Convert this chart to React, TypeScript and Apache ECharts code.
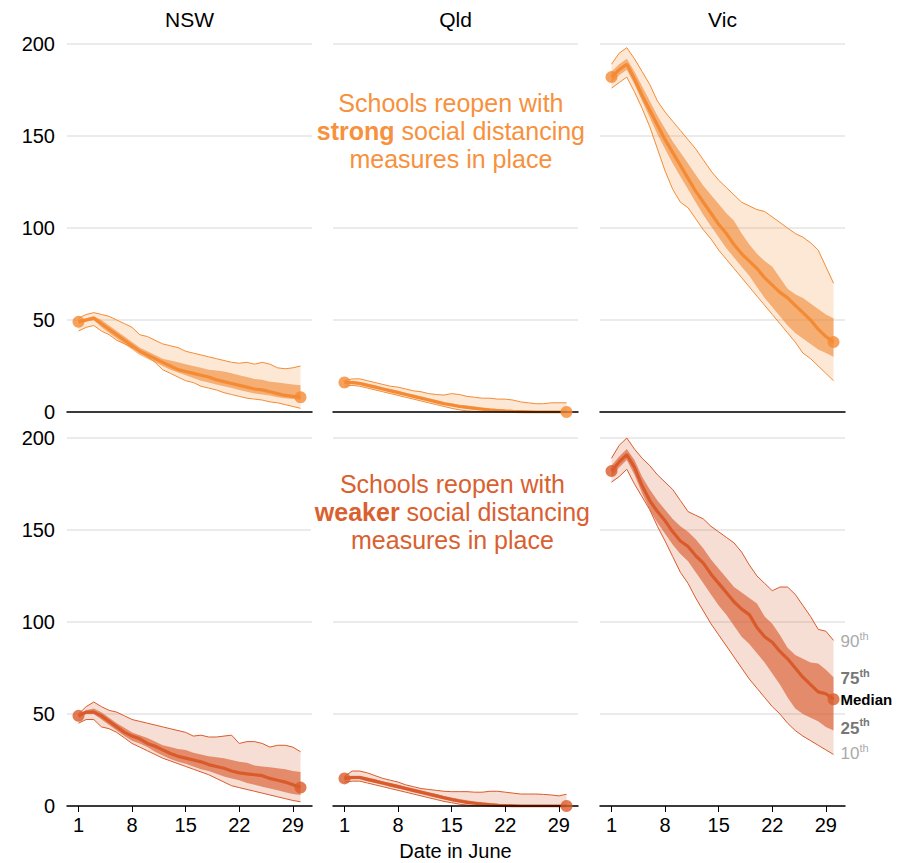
import React, { useEffect, useRef } from "react";
import * as echarts from "echarts";

// ---------- DATA ----------
const days = [1, 2, 3, 4, 5, 6, 7, 8, 9, 10, 11, 12, 13, 14, 15, 16, 17, 18, 19, 20, 21, 22, 23, 24, 25, 26, 27, 28, 29, 30];
const states = ["NSW", "Qld", "Vic"];
const dayTicks = [1, 8, 15, 22, 29];

// Strong social distancing (top row)
const nswStrongP10 = [44, 46, 47, 44, 42, 39, 37, 35, 33, 30, 27, 23, 21, 19, 17, 16, 14, 13, 12, 10.5, 9.5, 8.5, 7.5, 7, 6.5, 5.5, 5, 4, 3, 2];
const nswStrongP25 = [48, 49, 50, 46, 43, 40, 37, 34, 31, 29, 27, 25, 23, 21.5, 20, 18.5, 17, 16, 15, 14, 13, 12, 11, 10, 9.5, 9, 8, 7.5, 7, 6.5];
const nswStrongP50 = [49, 50, 51, 48, 45, 42, 39, 36, 33, 31, 29, 27, 25, 23, 22, 21, 20, 19, 17.5, 16.5, 15.5, 14.5, 13.5, 12.5, 12, 11, 10, 9, 8.5, 8];
const nswStrongP75 = [50, 51, 52, 50, 47, 44, 41, 38, 35, 33, 31, 29, 28, 27, 26, 25, 24, 23, 22.5, 22, 21, 20, 19, 18, 17.5, 16.5, 16, 15.5, 15, 14.5];
const nswStrongP90 = [51, 53, 54, 53, 52, 50, 48, 46, 42, 41, 39, 37, 36, 35, 33, 32, 31, 30, 29, 28, 27, 26.5, 27, 26, 27, 26, 24, 23.5, 24, 25];

const qldStrongP10 = [14, 14.5, 14, 13, 12, 11, 10, 9, 8, 7, 6, 5, 4, 3, 2, 1.2, 0.6, 0.3, 0.1, 0, 0, 0, 0, 0, 0, 0, 0, 0, 0, 0];
const qldStrongP25 = [15.5, 15.5, 15, 14, 13, 12, 11, 10, 9, 8, 7, 6, 5, 4, 3.2, 2.4, 1.8, 1.3, 0.9, 0.6, 0.4, 0.2, 0.1, 0, 0, 0, 0, 0, 0, 0];
const qldStrongP50 = [16, 16, 15.5, 14.5, 13.5, 12.5, 11.5, 10.5, 9.5, 8.5, 7.5, 6.5, 5.5, 4.5, 3.8, 3, 2.5, 2, 1.5, 1, 0.8, 0.5, 0.3, 0.2, 0.1, 0, 0, 0, 0, 0];
const qldStrongP75 = [16.5, 17, 16.5, 15.5, 14.5, 13.5, 12.5, 11.5, 10.5, 9.5, 8.5, 7.5, 6.5, 5.5, 4.8, 4, 3.5, 3, 2.5, 2, 1.6, 1.3, 1, 0.8, 0.6, 0.5, 0.4, 0.3, 0.3, 0.3];
const qldStrongP90 = [17, 18, 18, 17, 16, 15, 14, 13.5, 12.5, 11.5, 11, 10, 9.5, 9.2, 10, 9.5, 8.5, 8, 7.5, 7.5, 7, 7, 6.5, 5.5, 5, 4.5, 4.5, 5, 5, 5];

const vicStrongP10 = [176, 179, 182, 174, 165, 155, 143, 131, 121, 114, 111, 105, 99, 94, 88, 83, 78, 73, 68, 63, 58, 53, 48, 43, 38, 32, 29, 25, 21, 17];
const vicStrongP25 = [179, 183, 186, 178, 169, 160, 151, 143, 135, 128, 121, 114, 107, 101, 95, 89, 84, 79, 74, 68, 62, 57, 52, 47, 43, 40, 37, 34, 32, 30];
const vicStrongP50 = [182, 186, 189, 181, 172, 164, 156, 148, 141, 134, 127, 120, 114, 108, 102, 97, 91, 86, 82, 78, 73, 69, 65, 62, 58, 54, 50, 45, 41, 38];
const vicStrongP75 = [185, 189, 192, 185, 177, 169, 161, 154, 147, 141, 135, 129, 123, 118, 113, 108, 104, 97, 91, 86, 82, 79, 73, 67, 64, 62, 59, 56, 53, 51];
const vicStrongP90 = [189, 195, 198, 192, 185, 178, 169, 163, 158, 153, 148, 143, 137, 131, 126, 122, 118, 114, 112, 110, 109, 106, 103, 100, 97, 95, 92, 88, 79, 70];

// Weaker social distancing (bottom row)
const nswWeakP10 = [45, 47, 47, 43, 42, 40, 37, 34, 32, 30, 28, 26, 24.5, 23, 21.5, 20, 18.5, 17, 15, 13, 11, 10, 9, 8, 7, 6, 5, 4, 3, 2.3];
const nswWeakP25 = [48, 50, 50, 47, 44, 41, 38, 35.5, 34, 32, 29.5, 27.5, 25.5, 24, 23, 21.5, 20, 19, 17.5, 16, 15, 14, 12.5, 11.5, 10.5, 9.5, 8.5, 7.5, 6.5, 6];
const nswWeakP50 = [49, 51, 51, 49, 46, 43, 40, 38, 36.5, 34, 32.5, 30.5, 28.5, 27, 26, 25, 24, 22.5, 21.5, 20.5, 19, 18, 17.5, 17, 16.5, 15, 14, 13, 11.5, 10];
const nswWeakP75 = [50, 52, 53, 51, 48, 45, 42.5, 40, 38.5, 37, 35, 33, 32, 31, 30.5, 29, 28, 27, 26.5, 26, 25, 24, 23.5, 22, 21.5, 21, 20.5, 20, 19, 18.5];
const nswWeakP90 = [50, 54, 56.5, 54, 52, 51, 49, 47, 46, 45, 44, 43, 42, 41, 40, 38, 38.5, 37.5, 37.5, 38, 38.5, 34, 35, 35, 34, 32, 33, 33, 32, 29.5];

const qldWeakP10 = [13, 13.5, 13.5, 12.5, 11.5, 10.5, 9.5, 8.5, 7.5, 6.5, 5.5, 4.5, 3.5, 2.5, 1.8, 1, 0.5, 0.2, 0, 0, 0, 0, 0, 0, 0, 0, 0, 0, 0, 0];
const qldWeakP25 = [14, 14.5, 14.5, 13.5, 12.5, 11.5, 10.5, 9.5, 8.5, 7.5, 6.5, 5.5, 4.5, 3.6, 2.7, 1.9, 1.3, 0.8, 0.4, 0.2, 0.1, 0, 0, 0, 0, 0, 0, 0, 0, 0];
const qldWeakP50 = [15, 15.5, 15.5, 14.5, 13.5, 12.5, 11.5, 10.5, 9.5, 8.5, 7.5, 6.5, 5.5, 4.5, 3.5, 2.7, 2, 1.5, 1, 0.6, 0.3, 0.2, 0.1, 0, 0, 0, 0, 0, 0, 0];
const qldWeakP75 = [16, 16.5, 16.5, 15.5, 14.5, 13.5, 12.5, 11.5, 10.5, 9.5, 8.5, 7.5, 6.5, 5.5, 4.6, 3.8, 3.1, 2.5, 2, 1.6, 1.2, 1, 0.8, 0.6, 0.5, 0.4, 0.3, 0.3, 0.3, 0.3];
const qldWeakP90 = [16, 19, 19, 18, 16.5, 15, 14, 13, 11.5, 10.5, 9.5, 9, 8.5, 8, 7.8, 7.8, 7.8, 7.5, 7.5, 8, 8, 7.5, 7, 6.5, 6.5, 6.5, 6.3, 6, 5.5, 6.4];

const vicWeakP10 = [176, 179, 183, 175, 168, 161, 152, 144, 135.5, 127, 121, 113, 106, 99, 93, 87, 81, 75, 69, 64, 59, 54, 50, 45, 41, 38, 35.5, 33, 30.5, 28];
const vicWeakP25 = [179, 184, 188, 180, 170, 161, 154, 148, 142, 137, 133, 127, 121, 115, 109, 104, 98, 92, 88, 83, 78, 72, 66, 59, 53, 50, 48, 46, 43, 41];
const vicWeakP50 = [182, 187, 191, 184, 174, 166, 160, 155, 149, 144, 141, 136, 132, 126, 121, 116, 111, 107, 104, 97, 92, 89, 84, 80, 75, 70, 66, 62, 61, 58];
const vicWeakP75 = [185, 190, 194, 188, 179, 172, 166, 161, 156, 152, 149, 145, 140, 134, 129, 124, 119, 116, 113, 110, 103, 99, 93, 86, 82, 80, 78, 77.5, 74, 70];
const vicWeakP90 = [189, 196, 200, 194, 189, 185, 180, 176, 172, 166, 160, 158, 156, 152, 149, 146, 143, 138, 131, 125, 121, 117, 119, 119, 115, 109, 103, 96, 95, 90];

const percentileLabels = ["90", "75", "Median", "25", "10"];

// ---------- STYLE ----------
const FONT = "'Liberation Sans', Arial, Helvetica, sans-serif";
const COLS = [67, 333, 600];
const ROWS = [44, 438];
const GW = 245;
const GH = 368;

const themes = [
  { line: "#f48b34", text: "#f7913d", outer: "rgba(246,140,50,0.2)", inner: "rgba(240,130,40,0.57)", annoDy: -5 },
  { line: "#d95b2c", text: "#d9602f", outer: "rgba(217,89,42,0.2)", inner: "rgba(217,89,42,0.62)", annoDy: -18 },
];

const panels = [
  [
    [nswStrongP10, nswStrongP25, nswStrongP50, nswStrongP75, nswStrongP90],
    [qldStrongP10, qldStrongP25, qldStrongP50, qldStrongP75, qldStrongP90],
    [vicStrongP10, vicStrongP25, vicStrongP50, vicStrongP75, vicStrongP90],
  ],
  [
    [nswWeakP10, nswWeakP25, nswWeakP50, nswWeakP75, nswWeakP90],
    [qldWeakP10, qldWeakP25, qldWeakP50, qldWeakP75, qldWeakP90],
    [vicWeakP10, vicWeakP25, vicWeakP50, vicWeakP75, vicWeakP90],
  ],
];

function pairs(vals: number[]) {
  return days.map((d, i) => [d, vals[i]]);
}

function bandSeries(k: number, lo: number[], hi: number[], fill: string, z: number) {
  return {
    type: "custom",
    xAxisIndex: k,
    yAxisIndex: k,
    silent: true,
    z,
    clip: false,
    encode: { x: 0, y: 1 },
    data: [[days[0], lo[0]]],
    renderItem: (params: any, api: any) => {
      const top = days.map((d, i) => api.coord([d, hi[i]]));
      const bot = days.map((d, i) => api.coord([d, lo[i]])).reverse();
      return {
        type: "polygon",
        shape: { points: top.concat(bot) },
        style: { fill, stroke: "none" },
      };
    },
  };
}

function buildOption() {
  const grid: any[] = [];
  const xAxis: any[] = [];
  const yAxis: any[] = [];
  const series: any[] = [];
  let k = 0;
  for (let r = 0; r < 2; r++) {
    for (let c = 0; c < 3; c++) {
      grid.push({ left: COLS[c], top: ROWS[r], width: GW, height: GH, containLabel: false });
      const bottom = r === 1;
      xAxis.push({
        type: "value",
        gridIndex: k,
        min: -0.5,
        max: 31.5,
        axisLine: { show: true, onZero: true, lineStyle: { color: "#000", width: 1.5 } },
        axisTick: {
          show: bottom,
          customValues: dayTicks,
          length: 6,
          lineStyle: { color: "#000", width: 1 },
        },
        axisLabel: {
          show: bottom,
          customValues: dayTicks,
          fontSize: 20,
          color: "#000",
          fontFamily: FONT,
          margin: 9,
        },
        splitLine: { show: false },
        name: bottom && c === 1 ? "Date in June" : "",
        nameLocation: "middle",
        nameGap: 35,
        nameTextStyle: { fontSize: 20, color: "#000", fontFamily: FONT },
        z: 6,
      });
      yAxis.push({
        type: "value",
        gridIndex: k,
        min: 0,
        max: 200,
        interval: 50,
        axisLine: { show: false },
        axisTick: { show: false },
        axisLabel: {
          show: c === 0,
          fontSize: 20,
          color: "#000",
          fontFamily: FONT,
          margin: 12,
        },
        splitLine: { show: true, lineStyle: { color: "#e4e4e4", width: 1.5 } },
      });
      const th = themes[r];
      const [p10, p25, p50, p75, p90] = panels[r][c];
      const base = { type: "line", xAxisIndex: k, yAxisIndex: k, symbol: "none", silent: true, smooth: false };
      series.push(bandSeries(k, p10, p90, th.outer, 1));
      series.push(bandSeries(k, p25, p75, th.inner, 2));
      series.push({ ...base, name: `p10-${k}`, data: pairs(p10), lineStyle: { color: th.line, width: 1 }, z: 3 });
      series.push({ ...base, name: `p90-${k}`, data: pairs(p90), lineStyle: { color: th.line, width: 1 }, z: 3 });
      series.push({ ...base, name: `p50-${k}`, data: pairs(p50), lineStyle: { color: th.line, width: 3.2 }, z: 4 });
      series.push({
        type: "scatter",
        xAxisIndex: k,
        yAxisIndex: k,
        silent: true,
        symbolSize: 12,
        itemStyle: { color: th.line },
        data: [
          [days[0], p50[0]],
          [days[days.length - 1], p50[p50.length - 1]],
        ],
        z: 7,
      });
      k++;
    }
  }
  return {
    animation: false,
    textStyle: { fontFamily: FONT },
    grid,
    xAxis,
    yAxis,
    series,
  };
}

export default function App() {
  const ref = useRef<HTMLDivElement>(null);
  useEffect(() => {
    if (!ref.current) return;
    const chart = echarts.init(ref.current, undefined, { renderer: "svg" });
    chart.setOption(buildOption());

    const graphics: any[] = [];
    states.forEach((s, c) => {
      graphics.push({
        type: "text",
        id: `title-${c}`,
        x: COLS[c] + GW / 2,
        y: 19,
        style: {
          text: s,
          fill: "#000",
          fontSize: 21,
          fontFamily: FONT,
          align: "center",
          verticalAlign: "middle",
        },
      });
    });
    const annos = [
      { word: "strong", row: 0, day: 14.9 },
      { word: "weaker", row: 1, day: 15.1 },
    ];
    annos.forEach((a, i) => {
      const th = themes[a.row];
      const mid = chart.convertToPixel({ xAxisIndex: a.row * 3 + 1, yAxisIndex: a.row * 3 + 1 }, [a.day, 150]) as number[];
      graphics.push({
        type: "text",
        id: `anno-${i}`,
        x: mid[0],
        y: mid[1] + th.annoDy,
        z: 10,
        style: {
          text: `Schools reopen with\n{b|${a.word}} social distancing\nmeasures in place`,
          fill: th.text,
          fontSize: 25,
          lineHeight: 28,
          fontFamily: FONT,
          align: "center",
          verticalAlign: "middle",
          backgroundColor: "#fff",
          padding: [0, 4],
          rich: {
            b: { fontSize: 25, lineHeight: 28, fontWeight: "bold", fill: th.text, fontFamily: FONT },
          },
        },
      });
    });
    const vicIdx = 5;
    const ends = [vicWeakP90, vicWeakP75, vicWeakP50, vicWeakP25, vicWeakP10];
    const lblStyles = [
      { color: "#aaaaaa", weight: "normal", dy: 0 },
      { color: "#777777", weight: "bold", dy: 0 },
      { color: "#000000", weight: "bold", dy: 0 },
      { color: "#777777", weight: "bold", dy: -4 },
      { color: "#aaaaaa", weight: "normal", dy: -2 },
    ];
    ends.forEach((arr, i) => {
      const p = chart.convertToPixel({ xAxisIndex: vicIdx, yAxisIndex: vicIdx }, [days[days.length - 1], arr[arr.length - 1]]) as number[];
      const st = lblStyles[i];
      const isMedian = percentileLabels[i] === "Median";
      graphics.push({
        type: "text",
        id: `pl-${i}`,
        x: p[0] + 7,
        y: p[1] + st.dy,
        z: 10,
        style: {
          text: isMedian ? percentileLabels[i] : `{n|${percentileLabels[i]}}{s|th}`,
          fill: st.color,
          fontSize: 15,
          fontWeight: st.weight,
          fontFamily: FONT,
          align: "left",
          verticalAlign: "middle",
          rich: {
            n: { fontSize: 17, fontWeight: st.weight, fill: st.color, fontFamily: FONT, lineHeight: 20, verticalAlign: "bottom" },
            s: { fontSize: 11, fontWeight: st.weight, fill: st.color, fontFamily: FONT, lineHeight: 20, verticalAlign: "top" },
          },
        },
      });
    });
    chart.setOption({ graphic: graphics });

    return () => chart.dispose();
  }, []);
  return (
    <div
      ref={ref}
      style={{ position: "fixed", left: 0, top: 0, width: 910, height: 863, background: "#fff" }}
    />
  );
}
